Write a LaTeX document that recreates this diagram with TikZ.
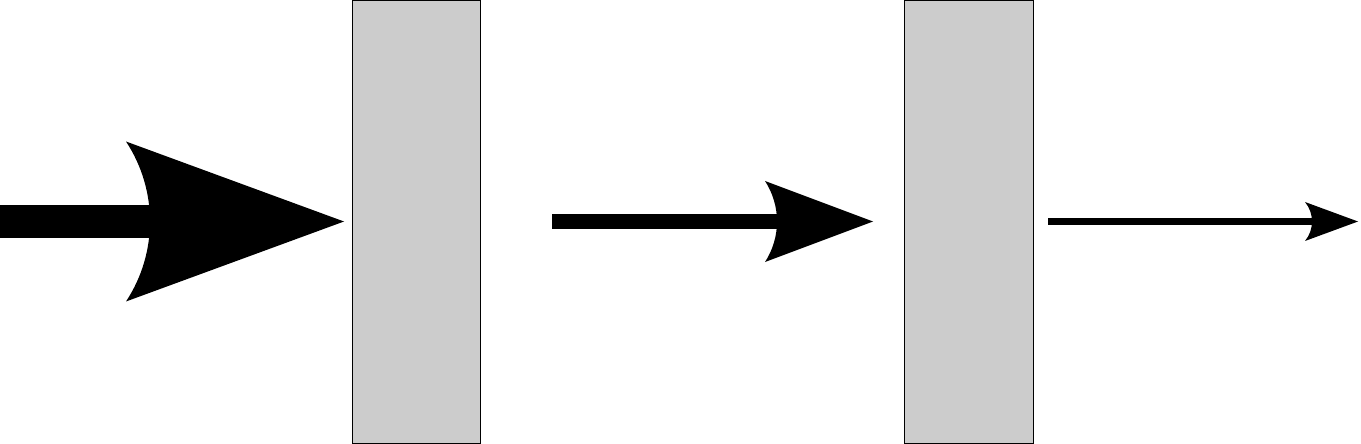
\documentclass[tikz,border=0pt]{standalone}
\definecolor{plategray}{HTML}{CCCCCC}
\begin{document}
\begin{tikzpicture}[x=0.5pt,y=-0.5pt,
  plate/.style={draw=black, line width=0.5pt, fill=plategray},
  pics/ahead/.style n args={3}{code={%
    \pgfmathsetmacro\headR{(#2*#2+#3*#3)/(2*#3)}%
    \pgfmathsetmacro\headT{asin(#2/\headR)}%
    \fill[black] (0,0) -- (-#1,-#2) arc[start angle=-\headT, end angle=\headT, radius=\headR] -- cycle;}}]
\useasboundingbox (0,0) rectangle (1361,444);
% plates
\draw[plate] (352.5,0.5) rectangle (480.5,443);
\draw[plate] (904.5,0.5) rectangle (1033,443);
\node[inner sep=0, minimum size=0] (b1) at (416.5,221.5) {};
\node[inner sep=0, minimum size=0] (b2) at (968.5,221.5) {};
% arrow 1
\coordinate (a1s) at (0,221.5);
\coordinate (a1t) at (344,221.5);
\draw[line width=16.5pt, shorten >=50pt] (a1s) -- (a1t);
\pic at (a1t) {ahead={218}{80}{24}};
% arrow 2
\coordinate (a2s) at (552,221.5);
\coordinate (a2t) at (873,221.5);
\draw[line width=7.5pt, shorten >=30pt] (a2s) -- (a2t);
\pic at (a2t) {ahead={108}{40.5}{12}};
% arrow 3
\coordinate (a3s) at (1048,221.5);
\coordinate (a3t) at (1358,221.5);
\draw[line width=3.75pt, shorten >=12.5pt] (a3s) -- (a3t);
\pic at (a3t) {ahead={53}{19.5}{7}};
\end{tikzpicture}
\end{document}
